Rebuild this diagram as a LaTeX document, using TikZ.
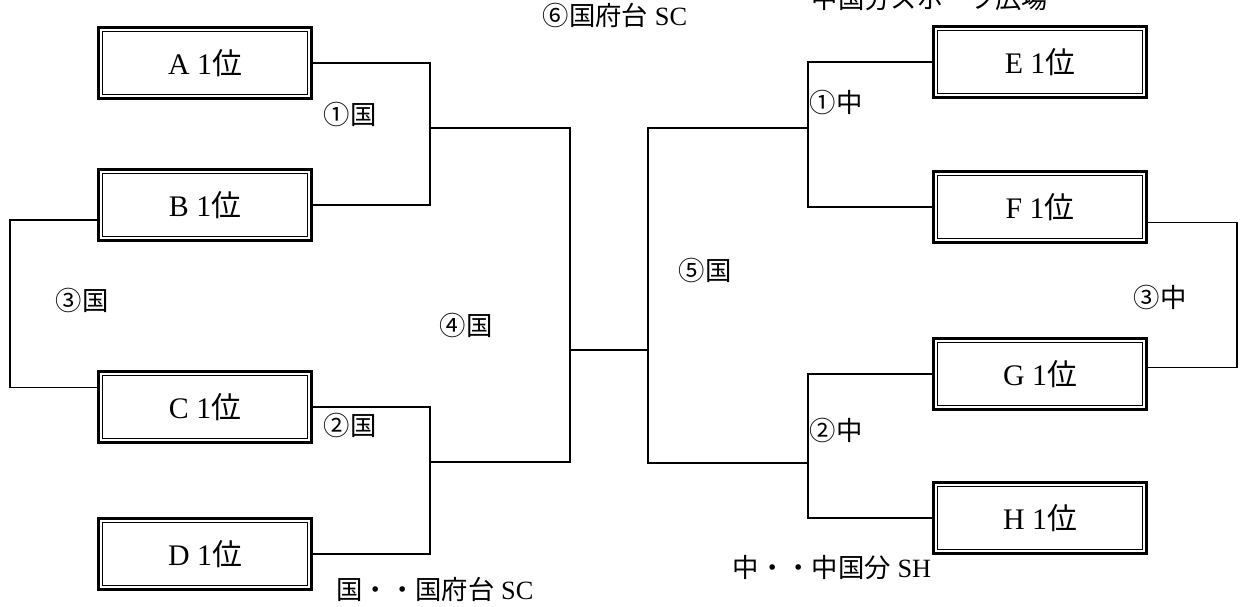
\documentclass[tikz,border=0pt]{standalone}
\usepackage{fontspec}
\setmainfont{Liberation Serif}
\newfontfamily\jpfont{Noto Sans CJK JP}
\usetikzlibrary{positioning}
\tikzset{
  seed/.style={draw, line width=1.5pt, outer sep=0pt, inner sep=0pt,
    minimum width=4.27cm, minimum height=1.43cm, font=\fontsize{17}{19}\selectfont},
  tag/.style={font=\jpfont\fontsize{15}{17}\selectfont, inner sep=0pt},
  line/.style={line width=1.1pt}
}
\newcommand{\seedname}[1]{#1~1{\jpfont 位}}

\begin{document}
\begin{tikzpicture}[x=0.02cm,y=-0.02cm]
  \useasboundingbox (0,0) rectangle (1241,607);
  % seeded teams
  \node[seed] (a1) at (205,63)  {\seedname{A}};
  \node[seed] (b1) at (205,205) {\seedname{B}};
  \node[seed] (c1) at (205,407) {\seedname{C}};
  \node[seed] (d1) at (205,554) {\seedname{D}};
  \node[seed] (e1) at (1040,62)  {\seedname{E}};
  \node[seed] (f1) at (1040,207) {\seedname{F}};
  \node[seed] (g1) at (1040,374) {\seedname{G}};
  \node[seed] (h1) at (1040,518) {\seedname{H}};
  \foreach \n in {a1,b1,c1,d1,e1,f1,g1,h1}
    \draw[line width=0.7pt] ([shift={(2.6pt,2.6pt)}]\n.south west) rectangle ([shift={(-2.6pt,-2.6pt)}]\n.north east);
  % bracket joints
  \coordinate (j1) at (430,128);
  \coordinate (j2) at (430,462);
  \coordinate (j4) at (570,350);
  \coordinate (j5) at (648,350);
  \coordinate (j6) at (808,128);
  \coordinate (j7) at (808,463);
  \coordinate (k3) at (10,300);
  \coordinate (m3) at (1237,300);
  \draw[line] (a1.east) -| (j1) |- (b1.east);
  \draw[line] (c1.east) -| (j2) |- (d1.east);
  \draw[line] (j1) -| (j4) |- (j2);
  \draw[line] (j4) -- (j5);
  \draw[line] (j6) -| (j5) |- (j7);
  \draw[line] (e1.west) -| (j6) |- (f1.west);
  \draw[line] (g1.west) -| (j7) |- (h1.west);
  \draw[line] ([yshift=-0.3cm]b1.west) -| (k3) |- ([yshift=0.39cm]c1.west);
  \draw[line] ([yshift=-0.31cm]f1.east) -| (m3) |- ([yshift=0.13cm]g1.east);
  % match labels
  \node[tag] (t1k) at (350,114) {①国};
  \node[tag] (t2k) at (350,425) {②国};
  \node[tag] (t3k) at (82,300)  {③国};
  \node[tag] (t4k) at (466,325) {④国};
  \node[tag] (t5k) at (705,270) {⑤国};
  \node[tag] (t6k) at (615,15)  {⑥国府台{\rmfamily\ SC}};
  \node[tag] (t1n) at (836,102) {①中};
  \node[tag] (t2n) at (836,430) {②中};
  \node[tag] (t3n) at (1160,297) {③中};
  \node[tag] (top) at (930,-2)  {中国分スポーツ広場};
  % venue legend
  \node[tag] (keyk) at (435,589) {国・・国府台{\rmfamily\ SC}};
  \node[tag] (keyn) at (832,568) {中・・中国分{\rmfamily\ SH}};
\end{tikzpicture}
\end{document}
